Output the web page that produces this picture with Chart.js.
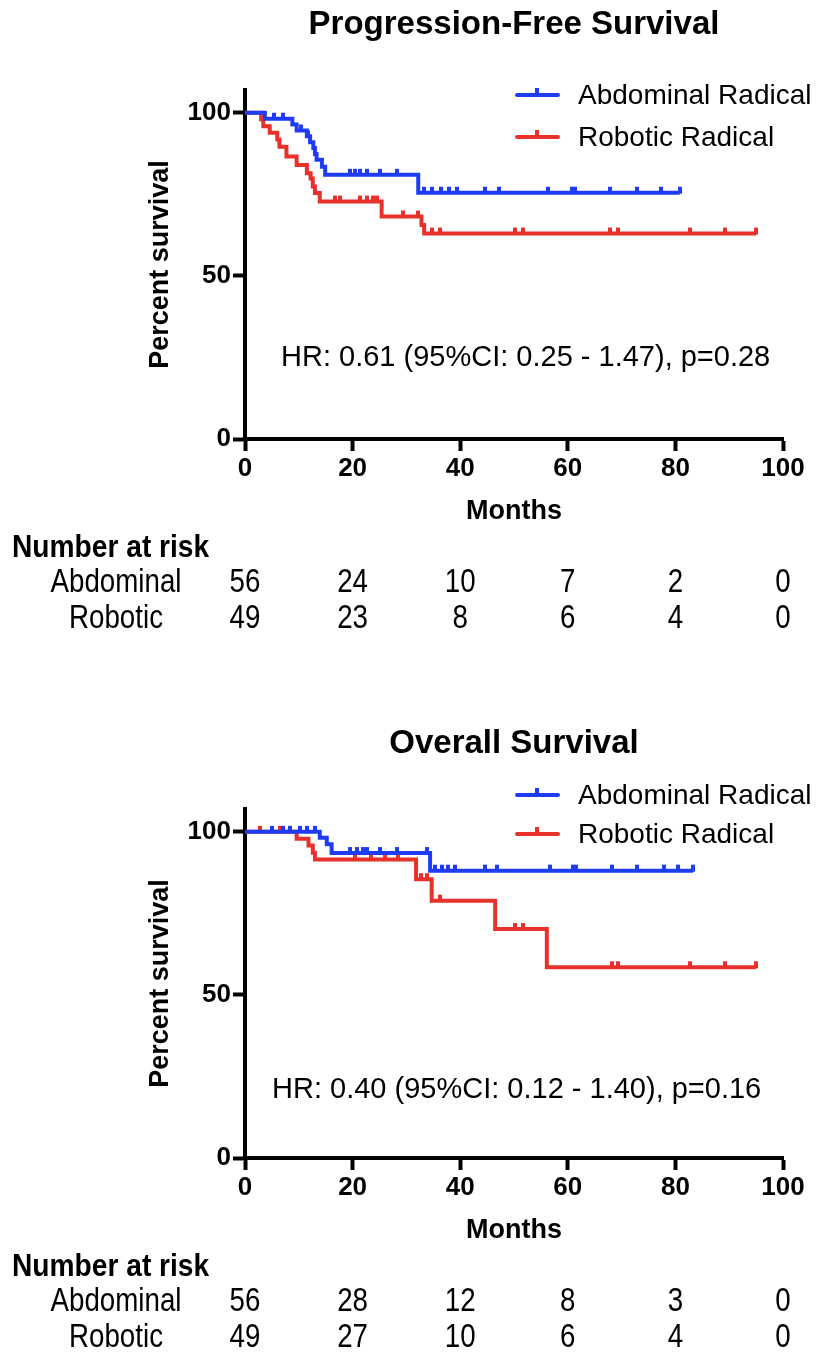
<!DOCTYPE html>
<html><head><meta charset="utf-8">
<script src="https://cdn.jsdelivr.net/npm/chart.js@4.4.0/dist/chart.umd.min.js"></script>
<style>
html,body{margin:0;padding:0;background:#fff;}
#wrap{position:relative;width:822px;height:1355px;overflow:hidden;background:#fff;}
.c{position:absolute;left:0;width:822px;}
</style>
</head><body>
<div id="wrap">
  <div class="c" style="top:0;height:650px"><canvas id="pfs"></canvas></div>
  <div class="c" style="top:719px;height:636px"><canvas id="os"></canvas></div>
</div>
<script>
// ---------- DATA ----------
const xTicks = [0, 20, 40, 60, 80, 100];
const yTicks = [0, 50, 100];
const riskTimes = [0, 20, 40, 60, 80, 100];

// Progression-free survival
const pfsAbdTime = [0, 3.7, 8.8, 9.6, 11.5, 12.1, 12.7, 13.0, 13.3, 14.3, 14.9, 32.2, 80.8];
const pfsAbdSurv = [100, 98.2, 96.4, 94.6, 92.8, 91.0, 89.2, 87.4, 85.6, 83.5, 81.0, 75.5, 75.5];
const pfsAbdCensor = [5.3, 7.1, 10.4, 11.8, 19.5, 20.5, 21.4, 22.6, 25.1, 28.2, 33.3, 34.8, 36.5, 38.0, 39.4, 44.6, 47.3, 56.4, 60.7, 61.4, 67.8, 72.8, 77.4, 80.8];
const pfsRobTime = [0, 3.0, 3.4, 4.6, 6.0, 6.4, 7.7, 9.6, 11.5, 12.2, 12.6, 13.0, 13.9, 25.4, 32.8, 33.3, 95.0];
const pfsRobSurv = [100, 98.0, 95.9, 93.9, 91.8, 89.6, 86.6, 84.0, 81.5, 79.9, 77.4, 75.4, 72.8, 68.2, 65.6, 63.0, 63.0];
const pfsRobCensor = [16.7, 17.7, 21.4, 22.6, 23.8, 24.5, 29.4, 32.2, 34.7, 36.2, 50.2, 51.7, 67.8, 69.4, 82.7, 89.2, 95.0];
const pfsRiskAbd = [56, 24, 10, 7, 2, 0];
const pfsRiskRob = [49, 23, 8, 6, 4, 0];

// Overall survival
const osAbdTime = [0, 13.9, 15.2, 16.1, 34.4, 83.3];
const osAbdSurv = [100, 98.2, 96.2, 93.5, 88.1, 88.1];
const osAbdCensor = [5.0, 7.1, 8.4, 10.2, 11.5, 13.0, 19.5, 20.8, 22.0, 22.6, 25.1, 28.2, 33.8, 35.3, 36.6, 37.8, 39.0, 44.6, 46.8, 56.7, 61.0, 61.6, 68.2, 72.8, 77.8, 80.5, 83.3];
const osRobTime = [0, 9.6, 11.8, 12.6, 13.0, 31.8, 34.7, 46.5, 56.1, 95.0];
const osRobSurv = [100, 97.9, 95.8, 93.6, 91.5, 85.5, 78.9, 70.2, 58.5, 58.5];
const osRobCensor = [2.8, 6.5, 8.4, 20.5, 23.5, 26.0, 28.5, 32.8, 33.8, 36.2, 50.2, 51.7, 68.2, 69.4, 82.7, 89.2, 95.0];
const osRiskAbd = [56, 28, 12, 8, 3, 0];
const osRiskRob = [49, 27, 10, 6, 4, 0];

const seriesLabels = ['Abdominal Radical', 'Robotic Radical'];
const riskLabels = ['Abdominal', 'Robotic'];
// ---------- END DATA ----------

const BLUE = '#1f3cf5';
const RED = '#e8312b';
const FAM = '"Liberation Sans", Arial, Helvetica, sans-serif';

function stepPoints(ts, ss) { return ts.map((t, i) => ({x: t, y: ss[i]})); }
function survAt(ts, ss, t) { let v = ss[0]; for (let i = 0; i < ts.length; i++) { if (ts[i] <= t) v = ss[i]; } return v; }
function censorPoints(ts, ss, cs) { return cs.map(t => ({x: t, y: survAt(ts, ss, t)})); }
function makeTick(color) {
  const c = document.createElement('canvas'); c.width = 4; c.height = 16;
  const g = c.getContext('2d'); g.fillStyle = color; g.fillRect(0, 2, 4, 7);
  return c;
}
function narrowText(ctx, text, x, y, sx, align) {
  ctx.save(); ctx.translate(x, y); ctx.scale(sx, 1); ctx.textAlign = align; ctx.fillText(text, 0, 0); ctx.restore();
}

const decor = {
  id: 'decor',
  afterDraw(chart, args, o) {
    const {ctx, chartArea: a} = chart;
    const xs = chart.scales.x;
    ctx.save();
    ctx.fillStyle = '#000';
    ctx.textBaseline = 'middle';
    ctx.textAlign = 'center';
    ctx.font = 'bold 33px ' + FAM;
    ctx.fillText(o.title, (a.left + a.right) / 2, 25);
    // legend
    o.legendY.forEach((ly, i) => {
      const col = i === 0 ? BLUE : RED;
      ctx.strokeStyle = col; ctx.lineWidth = 4; ctx.lineCap = 'round';
      ctx.beginPath(); ctx.moveTo(517, ly); ctx.lineTo(558, ly); ctx.stroke();
      ctx.fillStyle = col; ctx.fillRect(535, ly - 7, 4, 7);
      ctx.fillStyle = '#000'; ctx.font = '28px ' + FAM; ctx.textAlign = 'left';
      ctx.fillText(seriesLabels[i], 578, ly + 1);
    });
    // HR annotation
    ctx.font = '29px ' + FAM; ctx.textAlign = 'left';
    ctx.fillText(o.hr, o.hrX, o.hrY);
    // number at risk
    ctx.font = 'bold 32px ' + FAM;
    narrowText(ctx, 'Number at risk', 12, 548, 0.88, 'left');
    ctx.font = '33px ' + FAM;
    [o.riskA, o.riskB].forEach((row, r) => {
      const yy = r === 0 ? 583 : 619;
      narrowText(ctx, riskLabels[r], 116, yy, 0.84, 'center');
      row.forEach((n, i) => narrowText(ctx, String(n), xs.getPixelForValue(riskTimes[i]), yy, 0.84, 'center'));
    });
    ctx.restore();
  }
};

function makeChart(id, d) {
  const tickFont = {family: FAM, size: 26, weight: 'bold'};
  const titleFont = {family: FAM, size: 27, weight: 'bold'};
  return new Chart(document.getElementById(id), {
    type: 'line',
    data: {
      datasets: [
        {data: censorPoints(d.aT, d.aS, d.aC), showLine: false, pointStyle: makeTick(BLUE), pointRadius: 4, pointHoverRadius: 4, borderColor: BLUE, backgroundColor: BLUE, order: 0},
        {data: stepPoints(d.aT, d.aS), stepped: true, borderColor: BLUE, borderWidth: 4, pointRadius: 0, fill: false, borderJoinStyle: 'miter', order: 1},
        {data: censorPoints(d.bT, d.bS, d.bC), showLine: false, pointStyle: makeTick(RED), pointRadius: 4, pointHoverRadius: 4, borderColor: RED, backgroundColor: RED, order: 2},
        {data: stepPoints(d.bT, d.bS), stepped: true, borderColor: RED, borderWidth: 4, pointRadius: 0, fill: false, borderJoinStyle: 'miter', order: 3}
      ]
    },
    options: {
      responsive: true, maintainAspectRatio: false, animation: false, devicePixelRatio: 1,
      events: [],
      layout: {padding: {left: 144, right: 39, top: 90, bottom: d.padBottom}},
      plugins: {
        legend: {display: false}, tooltip: {enabled: false}, title: {display: false},
        decor: d.decor
      },
      scales: {
        x: {
          type: 'linear', min: 0, max: 100,
          afterBuildTicks: s => { s.ticks = xTicks.map(v => ({value: v})); },
          afterFit: s => { s.height = 89; },
          ticks: {font: tickFont, color: '#000', padding: 2, maxRotation: 0},
          grid: {display: true, drawOnChartArea: false, drawTicks: true, tickLength: 12, tickWidth: 4, tickColor: '#000', color: '#000'},
          border: {display: true, width: 4, color: '#000'},
          title: {display: true, text: 'Months', font: titleFont, color: '#000', padding: 0}
        },
        y: {
          type: 'linear', min: 0, max: 107,
          afterBuildTicks: s => { s.ticks = yTicks.map(v => ({value: v})); },
          afterFit: s => { s.width = 101; },
          ticks: {font: tickFont, color: '#000', padding: 2},
          grid: {display: true, drawOnChartArea: false, drawTicks: true, tickLength: 12, tickWidth: 4, tickColor: '#000', color: '#000'},
          border: {display: true, width: 4, color: '#000'},
          title: {display: true, text: 'Percent survival', font: titleFont, color: '#000', padding: 0}
        }
      }
    },
    plugins: [decor]
  });
}

makeChart('pfs', {
  aT: pfsAbdTime, aS: pfsAbdSurv, aC: pfsAbdCensor,
  bT: pfsRobTime, bS: pfsRobSurv, bC: pfsRobCensor,
  padBottom: 122,
  decor: {title: 'Progression-Free Survival', legendY: [95, 137], hr: 'HR: 0.61 (95%CI: 0.25 - 1.47), p=0.28', hrX: 281, hrY: 358, riskA: pfsRiskAbd, riskB: pfsRiskRob}
});
makeChart('os', {
  aT: osAbdTime, aS: osAbdSurv, aC: osAbdCensor,
  bT: osRobTime, bS: osRobSurv, bC: osRobCensor,
  padBottom: 108,
  decor: {title: 'Overall Survival', legendY: [76, 115], hr: 'HR: 0.40 (95%CI: 0.12 - 1.40), p=0.16', hrX: 272, hrY: 371, riskA: osRiskAbd, riskB: osRiskRob}
});
</script>
</body></html>
